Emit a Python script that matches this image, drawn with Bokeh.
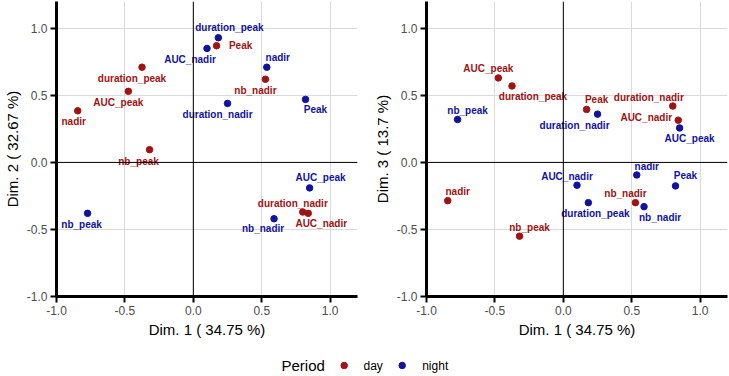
from bokeh.plotting import figure
from bokeh.models import ColumnDataSource, Range1d, FixedTicker, Span, PrintfTickFormatter
from bokeh.core.properties import value
from bokeh.layouts import column, row
from bokeh.embed import file_html
from bokeh.resources import INLINE

# Variable coordinates on the first three dimensions, one set per period
variables = ["Peak", "nadir", "AUC_peak", "AUC_nadir",
             "duration_peak", "duration_nadir", "nb_peak", "nb_nadir"]

day_dim1 = [0.17, -0.845, -0.475, 0.84, -0.375, 0.80, -0.32, 0.527]
day_dim2 = [0.87, 0.385, 0.53, -0.38, 0.71, -0.37, 0.095, 0.62]
day_dim3 = [0.395, -0.285, 0.63, 0.315, 0.57, 0.42, -0.55, -0.30]

night_dim1 = [0.82, 0.537, 0.85, 0.10, 0.183, 0.25, -0.773, 0.59]
night_dim2 = [0.47, 0.71, -0.19, 0.85, 0.93, 0.44, -0.38, -0.42]
night_dim3 = [-0.175, -0.094, 0.257, -0.17, -0.30, 0.36, 0.32, -0.33]

periods = ["day", "night"]
axis_ticks = [-1.0, -0.5, 0.0, 0.5, 1.0]
dim_labels = ["Dim. 1 ( 34.75 %)", "Dim. 2 ( 32.67 %)", "Dim. 3 ( 13.7 %)"]

# Label placement (screen pixels) so that labels do not collide
lab_dx_12 = {"day": [24, -4, -10, 13, -10, -10, -11, -10],
             "night": [10, 11, 11, -17, 11, -10, -6, -11]}
lab_dy_12 = {"day": [0, 11, 11, 10, 11, -9, 12, 11],
             "night": [10, -10, -10, 11, -10, 11, 11, 10]}
lab_dx_13 = {"day": [10, 10, -10, -32, 21, -24, 10, -10],
             "night": [10, 10, 10, -10, 7, -23, 10, 16]}
lab_dy_13 = {"day": [-10, -9, -9, -3, 11, -9, -9, -9],
             "night": [-10, -9, 11, -9, 11, 11, -9, 11]}

COLORS = {"day": "#A11212", "night": "#1212A0"}
FONT = "Liberation Sans"


def make_panel(xs, ys, dx, dy, ylabel, width, border_right):
    p = figure(width=width, height=340, output_backend="svg", toolbar_location=None,
               x_range=Range1d(-1.0, 1.2), y_range=Range1d(-1.0, 1.2),
               min_border_left=55, min_border_right=border_right,
               min_border_top=1, min_border_bottom=43)
    p.outline_line_color = None
    p.background_fill_color = "white"

    for ax in (p.xaxis[0], p.yaxis[0]):
        ax.ticker = FixedTicker(ticks=axis_ticks)
        ax.formatter = PrintfTickFormatter(format="%.1f")
        ax.axis_line_width = 3
        ax.axis_line_color = "black"
        ax.major_tick_line_width = 2
        ax.major_tick_line_color = "black"
        ax.major_tick_out = 6
        ax.major_tick_in = 0
        ax.minor_tick_line_color = None
        ax.major_label_text_font = FONT
        ax.major_label_text_font_size = "12px"
        ax.major_label_text_color = "#4D4D4D"
        ax.axis_label_text_font = FONT
        ax.axis_label_text_font_size = "15px"
        ax.axis_label_text_font_style = "normal"
        ax.axis_label_text_color = "black"
        ax.major_label_standoff = 3
        ax.axis_label_standoff = 3
    p.xaxis.axis_label = dim_labels[0]
    p.yaxis.axis_label = ylabel

    for g in (p.xgrid[0], p.ygrid[0]):
        g.ticker = FixedTicker(ticks=axis_ticks)
        g.grid_line_color = "#DADADA"
        g.grid_line_width = 1

    p.add_layout(Span(location=0, dimension="width", line_color="black", line_width=1))
    p.add_layout(Span(location=0, dimension="height", line_color="black", line_width=1))

    for per in periods:
        src = ColumnDataSource(dict(x=xs[per], y=ys[per], name=variables,
                                    dx=dx[per], dy=dy[per]))
        p.scatter("x", "y", source=src, size=6.5, color=COLORS[per])
        p.text("x", "y", text="name", source=src, x_offset="dx", y_offset="dy",
               text_color=COLORS[per], text_font=value(FONT),
               text_font_size="10px", text_font_style="bold",
               text_align="center", text_baseline="middle")
    return p


p1 = make_panel({"day": day_dim1, "night": night_dim1},
                {"day": day_dim2, "night": night_dim2},
                lab_dx_12, lab_dy_12, dim_labels[1], 370, 13)
p2 = make_panel({"day": day_dim1, "night": night_dim1},
                {"day": day_dim3, "night": night_dim3},
                lab_dx_13, lab_dy_13, dim_labels[2], 359, 2)

# Legend strip below the panels
leg = figure(width=729, height=36, output_backend="svg", toolbar_location=None,
             x_range=Range1d(0, 729), y_range=Range1d(36, 0),
             min_border=0)
leg.axis.visible = False
leg.grid.visible = False
leg.outline_line_color = None
leg.text(x=[281], y=[25], text=["Period"], text_font=value(FONT),
         text_font_size="15px", text_color="black",
         text_align="left", text_baseline="middle")
leg.scatter(x=[343.7, 401.7], y=[25, 25], size=6.5,
            color=[COLORS["day"], COLORS["night"]])
leg.text(x=[363, 421.7], y=[25, 25], text=periods, text_font=value(FONT),
         text_font_size="12px", text_color="black",
         text_align="left", text_baseline="middle")

layout = column(row(p1, p2), leg)
open("out.html", "w").write(file_html(layout, INLINE))
